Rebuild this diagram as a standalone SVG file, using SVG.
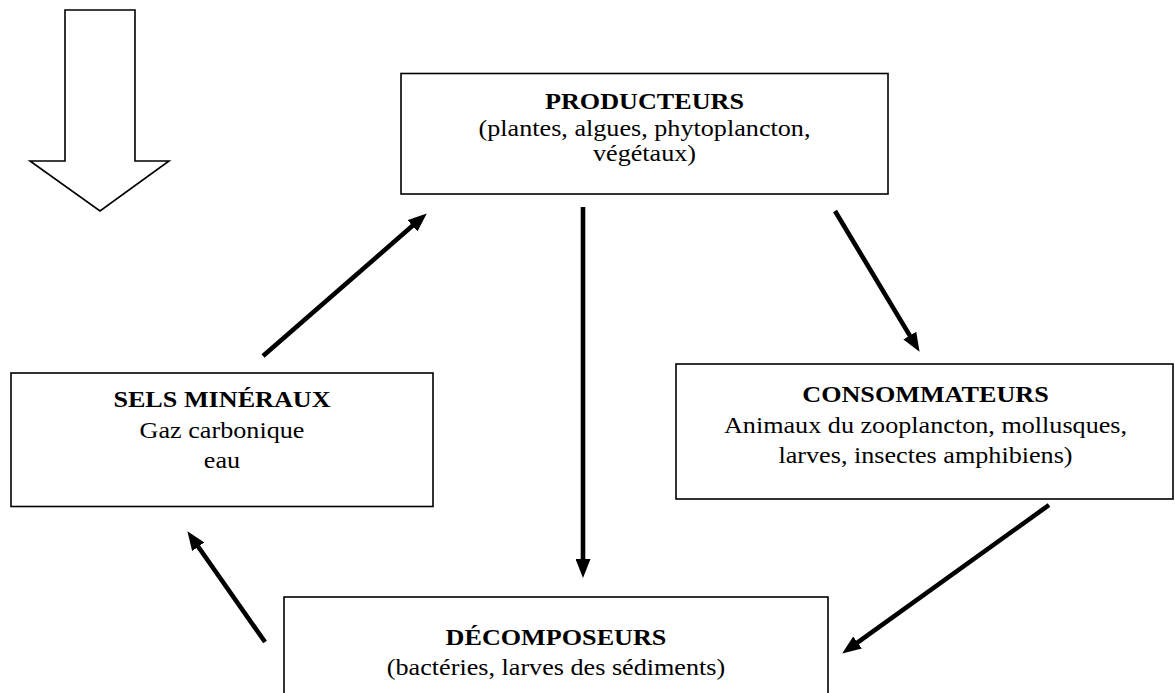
<svg xmlns="http://www.w3.org/2000/svg" width="1175" height="693" viewBox="0 0 1175 693">
<style>
.box{fill:#fff;stroke:#000;stroke-width:1.6}
.t{font-family:"Liberation Serif","Times New Roman",serif;font-size:24px;fill:#000;text-anchor:middle}
.b{font-weight:bold}
.conn line{stroke:#000;stroke-width:4.6;marker-end:url(#ah)}
</style>
<defs>
<marker id="ah" markerUnits="userSpaceOnUse" viewBox="0 0 19 15" refX="8" refY="7.5" markerWidth="19" markerHeight="15" orient="auto">
<path d="M0,0 L19,7.5 L0,15 z" fill="#000"/>
</marker>
</defs>
<rect width="1175" height="693" fill="#fff"/>
<g id="input-arrow">
<polygon points="65,10 135,10 135,161 169,161 100,211 30,161 65,161" fill="#fff" stroke="#000" stroke-width="1.6"/>
</g>
<g id="producteurs">
<rect class="box" x="401" y="73.5" width="487" height="120.5"/>
<g transform="translate(644.5,0) scale(1.09,1)">
<text class="t b" x="0" y="109">PRODUCTEURS</text>
<text class="t" x="0" y="136">(plantes, algues, phytoplancton,</text>
<text class="t" x="0" y="161">végétaux)</text>
</g>
</g>
<g id="sels">
<rect class="box" x="11" y="373" width="422" height="133.5"/>
<g transform="translate(222,0) scale(1.09,1)">
<text class="t b" x="0" y="407">SELS MINÉRAUX</text>
<text class="t" x="0" y="438">Gaz carbonique</text>
<text class="t" x="0" y="468">eau</text>
</g>
</g>
<g id="consommateurs">
<rect class="box" x="676" y="364" width="497" height="135"/>
<g transform="translate(925.5,0) scale(1.09,1)">
<text class="t b" x="0" y="402">CONSOMMATEURS</text>
<text class="t" x="0" y="433">Animaux du zooplancton, mollusques,</text>
<text class="t" x="0" y="463">larves, insectes amphibiens)</text>
</g>
</g>
<g id="decomposeurs">
<rect class="box" x="284" y="597" width="544" height="110"/>
<g transform="translate(556,0) scale(1.09,1)">
<text class="t b" x="0" y="645">DÉCOMPOSEURS</text>
<text class="t" x="0" y="675">(bactéries, larves des sédiments)</text>
</g>
</g>
<g id="connectors" class="conn">
<line x1="263" y1="356" x2="418.5" y2="220.6"/>
<line x1="583" y1="207" x2="583" y2="567"/>
<line x1="835" y1="211" x2="913.9" y2="342.4"/>
<line x1="1049" y1="505" x2="851.1" y2="647.2"/>
<line x1="265" y1="642" x2="193.7" y2="540.2"/>
</g>
</svg>
